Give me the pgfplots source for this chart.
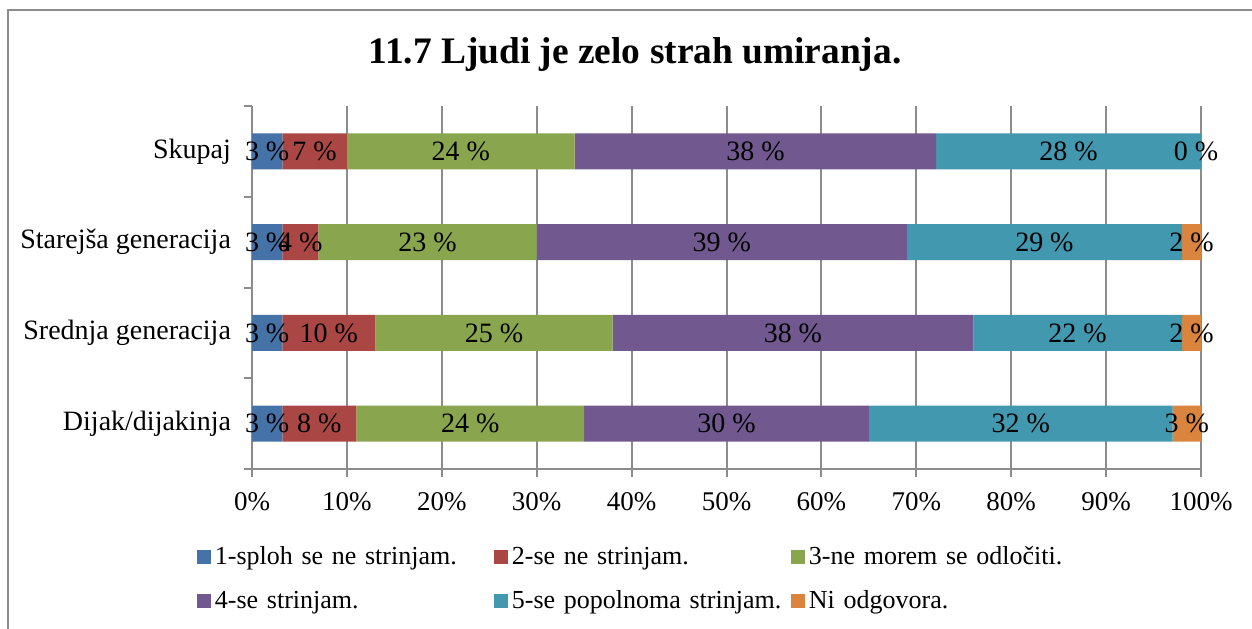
\documentclass[border=0pt]{standalone}
\usepackage{fontspec}
\setmainfont{Liberation Serif}
\usepackage{pgfplots}
\usepackage{pgfplotstable}
\pgfplotsset{compat=1.18}
\definecolor{c1}{HTML}{4572A7}
\definecolor{c2}{HTML}{AA4643}
\definecolor{c3}{HTML}{89A54E}
\definecolor{c4}{HTML}{71588F}
\definecolor{c5}{HTML}{4198AF}
\definecolor{c6}{HTML}{DB843D}
\definecolor{axgray}{HTML}{8C8C8C}
\pgfplotstableread{
y a b c d e f
0 3.2 7.8 24 30 32 3
1 3.2 9.8 25 38 22 2
2 3.2 3.8 23 39 29 2
3 3.2 6.8 24 38.1 27.9 0.001
}\datatable
\begin{document}
\begin{tikzpicture}
\useasboundingbox (0,0) rectangle (626pt,314pt);
\draw[axgray, line width=1pt] (4pt,-2pt) -- (4pt,309pt) -- (630pt,309pt);
\node[font=\fontsize{18.7}{22}\selectfont\bfseries, anchor=base] at (317.5pt,282pt) {11.7 Ljudi je zelo strah umiranja.};
\begin{axis}[
  at={(126pt,79.5pt)}, anchor=south west,
  scale only axis, width=474.5pt, height=181.5pt,
  xbar stacked, bar width=18pt,
  xmin=0, xmax=100, ymin=-0.5, ymax=3.5, enlargelimits=false,
  clip=false,
  axis x line*=bottom, axis y line*=left,
  axis line style={-, draw=axgray, line width=1pt},
  /pgf/number format/assume math mode=true,
  xtick={0,10,...,100},
  xticklabel={\pgfmathprintnumber{\tick}\%},
  xticklabel style={font=\fontsize{13.5}{15}\selectfont, yshift=-4pt},
  xmajorgrids, grid style={axgray, line width=1pt},
  tick align=outside, major tick length=4pt,
  tick style={axgray, line width=1pt},
  ytick={-0.5,0.5,1.5,2.5,3.5}, yticklabels={,,,,},
  extra y ticks={0,1,2,3},
  extra y tick labels={Dijak/dijakinja, Srednja generacija\ , Starejša generacija, Skupaj},
  extra y tick style={major tick length=0pt, yticklabel style={font=\fontsize{14}{16}\selectfont, anchor=east, xshift=-7pt}},
  point meta=explicit,
  nodes near coords={\pgfmathprintnumber[fixed,precision=0]{\pgfplotspointmeta} \%},
  every node near coord/.append style={anchor=center, font=\fontsize{14}{16}\selectfont, text=black},
  legend image code/.code={\fill[#1] (0pt,-3pt) rectangle (7pt,4pt);},
  legend columns=3,
  legend style={draw=none, fill=none, inner sep=0pt, outer sep=0pt,
    anchor=north west, at={(-0.058,-0.213)},
    font=\fontsize{13}{15}\selectfont,
    nodes={inner xsep=2pt, inner ysep=0pt, text width=137.5pt, align=left, text height=9pt, text depth=3pt},
    row sep=10pt},
]
\addplot[fill=c1, draw=none] table[x=a, y=y, meta=a] {\datatable};
\addplot[fill=c2, draw=none] table[x=b, y=y, meta=b] {\datatable};
\addplot[fill=c3, draw=none] table[x=c, y=y, meta=c] {\datatable};
\addplot[fill=c4, draw=none] table[x=d, y=y, meta=d] {\datatable};
\addplot[fill=c5, draw=none] table[x=e, y=y, meta=e] {\datatable};
\addplot[fill=c6, draw=none,
  visualization depends on=rawx \as \rawx,
  every node near coord/.append style={xshift={ifthenelse(\rawx<0.5,-2.5,0)*1pt}}] table[x=f, y=y, meta=f] {\datatable};
\legend{1-sploh se ne strinjam., 2-se ne strinjam., 3-ne morem se odločiti., 4-se strinjam., 5-se popolnoma strinjam., Ni odgovora.}
\end{axis}
\end{tikzpicture}
\end{document}
